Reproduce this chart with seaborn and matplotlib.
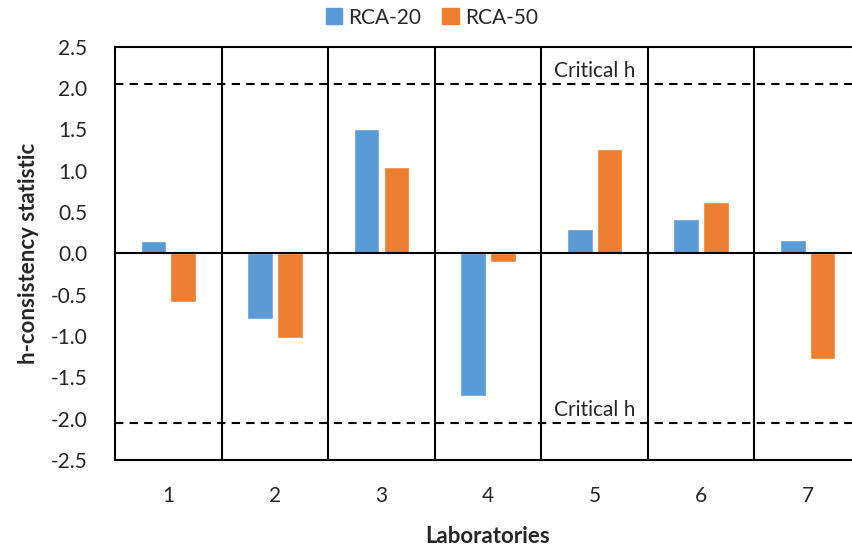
import numpy as np
import pandas as pd
import matplotlib
matplotlib.use('Agg')
import matplotlib.pyplot as plt
import seaborn as sns

# Data
labs = ["1", "2", "3", "4", "5", "6", "7"]
rca20 = [0.15, -0.80, 1.50, -1.72, 0.29, 0.41, 0.16]
rca50 = [-0.59, -1.02, 1.05, -0.10, 1.26, 0.62, -1.28]
series_names = ["RCA-20", "RCA-50"]
critical_h = 2.05
colors = ["#5B9BD5", "#ED7D31"]

df = pd.DataFrame({
    "lab": labs * 2,
    "h": rca20 + rca50,
    "series": [series_names[0]] * len(labs) + [series_names[1]] * len(labs),
})

sns.set_style("white")
plt.rcParams['font.family'] = ['Lato', 'DejaVu Sans']

fig = plt.figure(figsize=(8.52, 5.52), dpi=100)
ax = fig.add_axes([0.135, 0.1667, 0.8756, 0.7487])

sns.barplot(data=df, x="lab", y="h", hue="series", palette=colors, saturation=1,
            width=0.56, gap=0.14, ax=ax, legend=False)

# Separators between laboratories, zero line and critical lines
for i in range(len(labs) - 1):
    ax.axvline(i + 0.5, color="black", lw=1.5, zorder=0)
ax.axhline(0, color="black", lw=1.5, zorder=3)
for v in [critical_h, -critical_h]:
    ax.axhline(v, color="black", lw=1.5, ls=(0, (4, 3)), zorder=3)
ax.text(4.0, critical_h + 0.03, "Critical h", ha="center", va="bottom", fontsize=15)
ax.text(4.0, -critical_h + 0.03, "Critical h", ha="center", va="bottom", fontsize=15)

ax.set_xlim(-0.5, len(labs) - 0.5)
ax.set_ylim(-2.5, 2.5)
ax.set_yticks(np.arange(-2.5, 2.51, 0.5))
ax.set_yticklabels([f"{t:.1f}" for t in np.arange(-2.5, 2.51, 0.5)])
ax.tick_params(axis="x", length=0, pad=19, labelsize=15)
ax.tick_params(axis="y", length=0, pad=20, labelsize=15)
for s in ["left", "top", "bottom", "right"]:
    ax.spines[s].set_color("black")
    ax.spines[s].set_linewidth(1.5)

ax.set_xlabel("Laboratories", fontsize=16, fontweight="bold", labelpad=14)
ax.set_ylabel("h-consistency statistic", fontsize=16, fontweight="bold", labelpad=8)

# Legend on top
handles = [plt.Rectangle((0, 0), 1, 1, color=c) for c in colors]
fig.legend(handles, series_names, loc="center", bbox_to_anchor=(0.507, 0.968),
           ncol=2, frameon=False, fontsize=15, handlelength=0.8, handleheight=0.8,
           handletextpad=0.3, columnspacing=1.0)

fig.savefig("out.png", dpi=100)
